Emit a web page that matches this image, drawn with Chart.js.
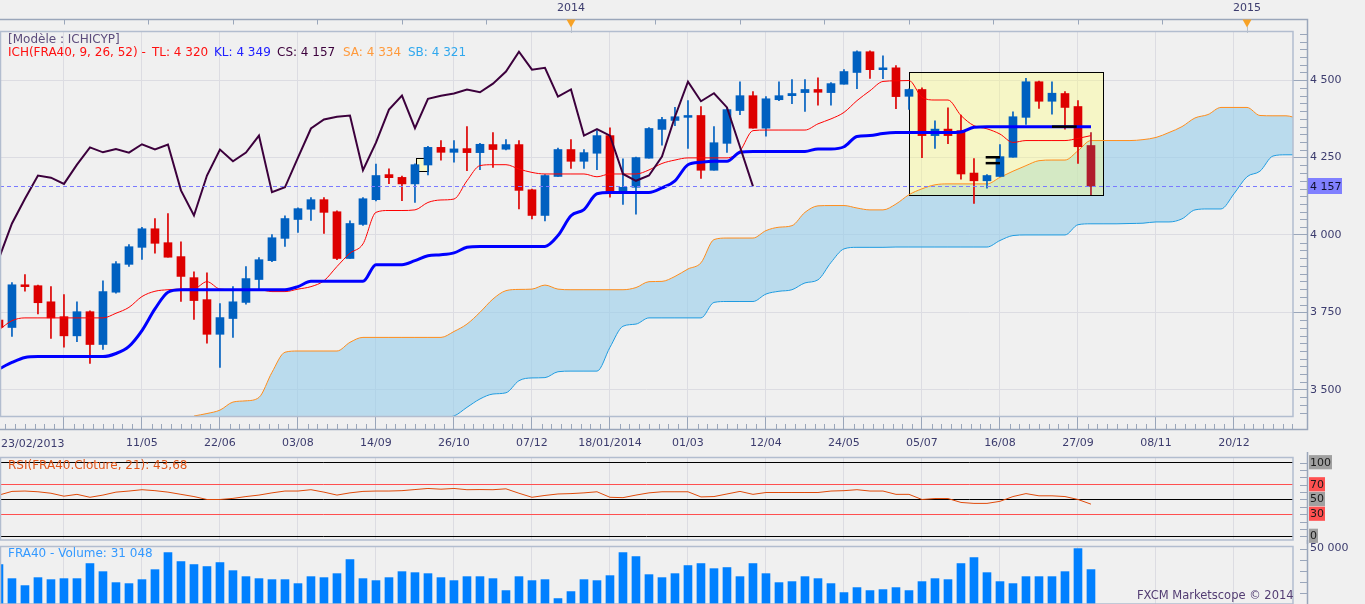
<!DOCTYPE html>
<html>
<head>
<meta charset="utf-8">
<script src="https://cdn.jsdelivr.net/npm/chart.js@4.4.1/dist/chart.umd.min.js"></script>
<style>
body { margin: 0; background: #f0f0f0; }
#wrap { position: relative; width: 1365px; height: 604px; overflow: hidden; font-family: 'DejaVu Sans', sans-serif; font-size: 12px; }
canvas { position: absolute; left: 0; }
.t { position: absolute; white-space: pre; line-height: 14px; }
</style>
</head>
<body>
<div id="wrap">
  <canvas id="mainChart" width="1365" height="452" style="top:0"></canvas>
  <canvas id="rsiChart" width="1365" height="92" style="top:452px"></canvas>
  <canvas id="volChart" width="1365" height="64" style="top:540px"></canvas>

  <div class="t" style="left:8px;top:32px;color:#5c4c7c">[Modèle : ICHICYP]</div>
  <div class="t" style="left:8px;top:45px;color:#ff1010">ICH(FRA40, 9, 26, 52) -</div>
  <div class="t" style="left:152px;top:45px;color:#ff1010">TL: 4 320</div>
  <div class="t" style="left:214px;top:45px;color:#2020ff">KL: 4 349</div>
  <div class="t" style="left:277px;top:45px;color:#3c003c">CS: 4 157</div>
  <div class="t" style="left:343px;top:45px;color:#ff9a3c">SA: 4 334</div>
  <div class="t" style="left:408px;top:45px;color:#30a8ee">SB: 4 321</div>
  <div class="t" style="left:8px;top:458px;color:#e0561a">RSI(FRA40.Cloture, 21): 43,68</div>
  <div class="t" style="left:8px;top:546px;color:#3399ff">FRA40 - Volume: 31 048</div>
  <div class="t" style="left:1137px;top:588px;color:#523c72;font-size:11.5px">FXCM Marketscope © 2014</div>
</div>

<script>
// weeks are counted from the week of 30/03/2013 (= 0); first candle is week -5 (23/02/2013)
const firstWeek = -5;
const xMin = -4.92, xMax = 94.54;
const xTickWeeks = [0, 6, 12, 18, 24, 30, 36, 42, 48, 54, 60, 66, 72, 78, 84, 90];
const xTickLabels = ['', '11/05', '22/06', '03/08', '14/09', '26/10', '07/12', '18/01/2014',
                     '01/03', '12/04', '24/05', '05/07', '16/08', '27/09', '08/11', '20/12'];
const firstDateLabel = '23/02/2013';
const yearMarks = [{ week: 39, label: '2014' }, { week: 91, label: '2015' }];

const priceTicks = [3500, 3750, 4000, 4250, 4500];
const rsiLevels = [0, 30, 50, 70, 100];

// weekly candles FRA40
const open = [3725,3701,3839,3836,3784,3736,3674,3752,3646,3815,3905,3960,4020,3975,3930,3862,3791,3679,3730,3782,
              3856,3917,3989,4050,4083,4114,4075,3924,4034,4114,4195,4186,4165,4226,4283,4267,4279,4266,4292,4277,
              4292,4146,4063,4189,4276,4238,4264,4321,4138,4154,4248,4341,4370,4380,4386,4209,4296,4402,4450,4345,
              4437,4450,4460,4470,4460,4487,4525,4592,4534,4540,4448,4470,4321,4342,4337,4200,4175,4189,4251,4380,
              4495,4432,4457,4415,4289];
const high = [3730,3846,3872,3838,3833,3807,3784,3755,3852,3914,3969,4025,4053,4069,3978,3881,3878,3778,3833,3898,
              3927,4001,4062,4088,4121,4121,4078,4046,4121,4229,4214,4190,4230,4286,4305,4305,4350,4296,4331,4308,
              4305,4148,4195,4281,4308,4276,4337,4346,4246,4252,4347,4380,4412,4434,4415,4350,4411,4495,4463,4447,
              4495,4502,4502,4508,4492,4534,4595,4595,4579,4547,4472,4475,4369,4411,4387,4247,4195,4292,4398,4506,
              4497,4495,4463,4434,4331];
const low = [3690,3672,3818,3745,3666,3637,3655,3585,3630,3812,3898,3921,3941,3928,3785,3727,3650,3572,3669,3776,
             3824,3914,3963,4008,4047,4005,3920,3924,4031,4110,4166,4111,4105,4194,4242,4235,4208,4211,4218,4275,
             4084,4052,4045,4189,4215,4215,4211,4122,4099,4067,4248,4290,4353,4280,4183,4209,4267,4389,4345,4319,
             4434,4424,4399,4419,4419,4487,4473,4506,4505,4408,4406,4250,4280,4295,4180,4102,4151,4189,4251,4357,
             4409,4390,4342,4231,4130];
const close = [3701,3839,3833,3781,3732,3674,3752,3646,3817,3907,3962,4020,3973,3928,3866,3788,3679,3733,3784,3859,
               3920,3991,4053,4085,4114,4073,3924,4037,4117,4192,4185,4165,4227,4283,4267,4278,4266,4293,4276,4292,
               4144,4063,4192,4276,4238,4266,4321,4138,4154,4250,4344,4373,4382,4386,4209,4298,4405,4450,4345,4440,
               4450,4457,4470,4461,4489,4528,4592,4534,4540,4447,4470,4321,4342,4321,4197,4175,4192,4253,4382,4495,
               4432,4458,4412,4285,4157];

// Ichimoku lines (from week -5)
const tenkan = [3693,3723,3732,3732,3732,3732,3732,3732,3732,3747,3766,3801,3818,3823,3825,3826,3849,3825,3823,3823,
                3823,3817,3817,3825,3833,3852,3898,3941,3971,4073,4079,4079,4081,4105,4113,4116,4175,4224,4227,4227,
                4213,4202,4197,4197,4197,4197,4188,4197,4197,4197,4210,4231,4242,4249,4249,4249,4249,4272,4337,4339,
                4339,4339,4339,4359,4375,4396,4434,4466,4496,4498,4499,4445,4436,4436,4386,4353,4343,4326,4299,4305,
                4305,4305,4305,4312,4321];
const kijun = [3567,3588,3604,3607,3607,3607,3607,3607,3607,3617,3640,3691,3761,3815,3823,3823,3823,3823,3823,3823,
               3823,3823,3823,3833,3850,3850,3850,3850,3850,3904,3904,3904,3917,3933,3936,3942,3960,3963,3963,3963,
               3963,3963,3963,3998,4062,4082,4133,4137,4137,4137,4137,4152,4175,4227,4235,4238,4238,4267,4270,4270,
               4270,4270,4270,4278,4278,4285,4318,4321,4328,4331,4331,4331,4331,4331,4333,4348,4350,4350,4350,4350,
               4350,4350,4350,4350,4350];
// cloud, shifted 26 weeks ahead, from week 10 (below the chart before that)
const senkouStart = 10;
const senkouA = [3415,3423,3434,3460,3464,3475,3556,3621,3625,3625,3625,3625,3653,3669,3669,3669,3669,3669,3669,3669,
                 3688,3712,3750,3793,3820,3824,3825,3838,3825,3823,3823,3823,3823,3823,3830,3849,3850,3866,3890,3910,
                 3985,3990,3990,3990,4014,4025,4030,4073,4094,4095,4095,4087,4081,4081,4100,4130,4149,4162,4165,4165,
                 4165,4165,4186,4206,4224,4240,4242,4242,4272,4305,4305,4305,4305,4308,4315,4331,4350,4378,4389,4412,
                 4412,4412,4386,4385,4385,4375];
const senkouB = [3300,3300,3300,3300,3310,3320,3330,3340,3350,3350,3350,3360,3370,3380,3390,3395,3400,3405,3408,3410,
                 3415,3443,3470,3486,3490,3529,3538,3539,3558,3560,3560,3560,3637,3705,3712,3732,3732,3732,3732,3732,
                 3782,3785,3785,3785,3809,3818,3823,3845,3855,3911,3955,3960,3960,3960,3961,3961,3961,3961,3961,3961,
                 3961,3961,3982,3998,4000,4000,4000,4000,4033,4036,4036,4036,4037,4038,4042,4042,4052,4081,4084,4084,
                 4133,4188,4206,4255,4259,4259];

// drawn objects on the chart
const markBoxes = [
  { from: 65.0, to: 79.92, top: 4528, bottom: 4130, fill: 'rgba(255,255,128,0.38)' },
  { from: 27.05, to: 27.98, top: 4249, bottom: 4206, fill: '#f8f8c8' }
];
const markLines = [
  { from: 70.9, to: 72.0, level: 4251 },
  { from: 70.9, to: 72.0, level: 4232 },
  { from: 76.0, to: 77.9, level: 4350 }
];

const rsi = [56,61,61.5,60.5,58.5,54.5,57,53,56,60,61.5,63.3,62,60,57,54,50,50,51.5,54,
             56,59,61.5,61.5,63.3,60,56,59,61,61.5,61.5,62,63.5,65,64,65,63.3,63.5,63.3,64.5,
             58.5,53,55.5,57.5,58,59,60.5,53,52.5,56,59,60.5,60.5,60.5,53.5,54,57.5,61,57,59.5,
             59.5,59.5,59.5,59.5,61.5,62,63.3,61.5,61.5,57,57,50,51.3,51.3,46,44.7,44.7,47.5,54,58,
             55,55,54,50,43.68];
const volume = [35600,22900,16600,23800,22000,22900,22900,36500,29200,19300,18400,22000,31000,46400,38300,35600,33800,37400,30100,24700,
                22900,22000,22000,18400,24700,23800,27400,40100,22900,21100,23800,29200,28300,27400,23800,21100,24700,24700,22900,12100,
                24700,21100,22000,4900,11200,22000,21100,25600,46400,42800,26500,23800,27400,34700,36500,31900,32900,24700,36500,27400,
                19300,20200,24700,22900,18400,10300,14800,12100,13000,14800,12100,20200,22900,22000,36500,41900,28300,20200,18400,24700,
                24700,24700,29200,50000,31048];

const upColor = '#0060c0', downColor = '#dd0000', lastColor = '#b01c2c';
const gridColor = '#dcdce2', axisColor = '#9aa6ba', frameColor = '#b2bdcf', labelColor = '#3c3c6e';

Chart.defaults.font.family = "'DejaVu Sans', sans-serif";
Chart.defaults.font.size = 11;
Chart.defaults.color = labelColor;

function fmt(v) { return String(v).replace(/\B(?=(\d{3})+(?!\d))/g, ' '); }
function xy(values, start) { return values.map((v, i) => ({ x: start + i, y: v })); }

const lastClose = close[close.length - 1];
const candleColors = open.map((o, i) => i === open.length - 1 ? lastColor : (close[i] >= o ? upColor : downColor));
const bodies = open.map((o, i) => ({ x: firstWeek + i, y: [Math.min(o, close[i]), Math.max(o, close[i])] }));
const wicks = low.map((l, i) => ({ x: firstWeek + i, y: [l, high[i]] }));

function xScale(showLabels) {
  return {
    type: 'linear', min: xMin, max: xMax, offset: false,
    afterBuildTicks: s => { s.ticks = xTickWeeks.map(v => ({ value: v })); },
    afterFit: s => { s.height = showLabels ? 36 : 0; s.paddingLeft = 0; s.paddingRight = 0; },
    grid: { color: gridColor, tickColor: axisColor, tickLength: 13, drawTicks: showLabels, offset: false },
    border: { display: false },
    ticks: { display: showLabels, padding: 8, maxRotation: 0, autoSkip: false, callback: (v, i) => xTickLabels[i] }
  };
}
function fitRight(s) { s.width = 72; s.paddingTop = 0; s.paddingBottom = 0; }

function line(ctx, x0, y0, x1, y1) { ctx.beginPath(); ctx.moveTo(x0, y0); ctx.lineTo(x1, y1); ctx.stroke(); }

const mainDecor = {
  id: 'mainDecor',
  beforeDatasetsDraw(chart) {
    const { ctx, chartArea: a, scales: { x, y } } = chart;
    ctx.save();
    ctx.beginPath(); ctx.rect(a.left, a.top, a.right - a.left, a.bottom - a.top); ctx.clip();
    markBoxes.forEach(b => {
      const x0 = Math.round(x.getPixelForValue(b.from)), x1 = Math.round(x.getPixelForValue(b.to));
      const y0 = Math.round(y.getPixelForValue(b.top)), y1 = Math.round(y.getPixelForValue(b.bottom));
      ctx.fillStyle = b.fill; ctx.fillRect(x0, y0, x1 - x0, y1 - y0);
      ctx.strokeStyle = '#000'; ctx.lineWidth = 1;
      ctx.strokeRect(x0 + 0.5, y0 + 0.5, x1 - x0, y1 - y0);
    });
    ctx.restore();
  },
  afterDatasetsDraw(chart) {
    const { ctx, chartArea: a, scales: { y } } = chart;
    const py = Math.round(y.getPixelForValue(lastClose)) + 0.5;
    ctx.save();
    ctx.strokeStyle = '#7a7aff'; ctx.lineWidth = 1; ctx.setLineDash([4, 3]);
    line(ctx, a.left, py, a.right, py);
    ctx.restore();
  },
  afterDraw(chart) {
    const { ctx, chartArea: a, scales: { x, y } } = chart;
    const axisX = a.right + 14.5, axisY = a.bottom + 13.5, bandY = a.top - 11.5;
    ctx.save();
    // plot frame
    ctx.strokeStyle = frameColor; ctx.lineWidth = 1.5;
    ctx.strokeRect(a.left + 0.5, a.top + 0.5, a.right - a.left - 0.5, a.bottom - a.top);
    // outer axis lines
    ctx.strokeStyle = axisColor; ctx.lineWidth = 1.5;
    ctx.beginPath();
    ctx.moveTo(0, bandY); ctx.lineTo(axisX, bandY); ctx.lineTo(axisX, axisY); ctx.lineTo(0, axisY);
    ctx.stroke();
    ctx.lineWidth = 1;
    // minor ticks on the time axis
    for (let n = Math.ceil(xMin / 0.75); n * 0.75 <= xMax; n++) {
      if (n % 8 === 0) continue;
      const px = Math.round(x.getPixelForValue(n * 0.75)) + 0.5;
      line(ctx, px, a.bottom + 8, px, a.bottom + 13);
    }
    // minor ticks on the price axis
    for (let v = Math.ceil(y.min / 25) * 25; v <= y.max; v += 25) {
      if (v % 250 === 0) continue;
      const py = Math.round(y.getPixelForValue(v)) + 0.5;
      line(ctx, a.right + 7, py, a.right + 14, py);
    }
    // ticks of the top band
    for (let n = 0; n * 6.5 <= xMax; n++) {
      const px = Math.round(x.getPixelForValue(n * 6.5)) + 0.5;
      line(ctx, px, bandY, px, bandY + 5);
    }
    // year markers
    ctx.font = "11px 'DejaVu Sans'"; ctx.textAlign = 'center'; ctx.textBaseline = 'middle';
    yearMarks.forEach(m => {
      const px = Math.round(x.getPixelForValue(m.week));
      ctx.fillStyle = labelColor; ctx.fillText(m.label, px, 8);
      ctx.strokeStyle = '#b8c0cc'; line(ctx, px + 0.5, bandY + 7, px + 0.5, a.top + 2);
      ctx.fillStyle = '#f7a227';
      ctx.beginPath(); ctx.moveTo(px - 4.5, bandY); ctx.lineTo(px + 4.5, bandY); ctx.lineTo(px, bandY + 8); ctx.closePath(); ctx.fill();
    });
    // first date on the time axis
    ctx.fillStyle = labelColor; ctx.textAlign = 'left';
    ctx.fillText(firstDateLabel, 1, a.bottom + 28);
    // last price label
    const py = Math.round(y.getPixelForValue(lastClose));
    ctx.fillStyle = '#8080ff'; ctx.fillRect(a.right + 15, py - 8, 34, 16);
    ctx.fillStyle = '#101030'; ctx.fillText(fmt(lastClose), a.right + 17, py + 1);
    ctx.restore();
  }
};

new Chart(document.getElementById('mainChart'), {
  type: 'line',
  data: {
    datasets: [
      { label: 'CS', data: xy(close.slice(26), firstWeek), borderColor: '#3c003c', borderWidth: 2, order: 1 },
      { label: 'KL', data: xy(kijun, firstWeek), borderColor: '#0000ff', borderWidth: 3, order: 2, cubicInterpolationMode: 'monotone' },
      { label: 'TL', data: xy(tenkan, firstWeek), borderColor: '#ff0000', borderWidth: 1, order: 3, cubicInterpolationMode: 'monotone' },
      ...markLines.map(m => ({ data: [{ x: m.from, y: m.level }, { x: m.to, y: m.level }], borderColor: '#000', borderWidth: 2.5, order: 0 })),
      { type: 'bar', data: bodies, backgroundColor: candleColors, barThickness: 8, grouped: false, minBarLength: 1, order: 5 },
      { type: 'bar', data: wicks, backgroundColor: candleColors, barThickness: 1, grouped: false, order: 6 },
      { label: 'SA', data: xy(senkouA, senkouStart), borderColor: '#ff8c1a', borderWidth: 1, fill: '+1',
        backgroundColor: 'rgba(150,205,235,0.6)', order: 7, cubicInterpolationMode: 'monotone' },
      { label: 'SB', data: xy(senkouB, senkouStart), borderColor: '#1e9be0', borderWidth: 1, order: 8, cubicInterpolationMode: 'monotone' }
    ]
  },
  options: {
    responsive: false, animation: false, events: [],
    layout: { padding: { top: 31, left: 0, right: 0, bottom: 0 } },
    elements: { point: { radius: 0 }, bar: { borderWidth: 0 } },
    plugins: { legend: { display: false }, tooltip: { enabled: false }, filler: { drawTime: 'beforeDatasetsDraw' } },
    scales: {
      x: xScale(true),
      y: {
        position: 'right', min: 3415, max: 4659,
        afterBuildTicks: s => { s.ticks = priceTicks.map(v => ({ value: v })); },
        afterFit: fitRight,
        grid: { color: gridColor, tickColor: axisColor, tickLength: 14 },
        border: { display: false },
        ticks: { padding: 3, crossAlign: 'near', callback: v => fmt(v) }
      }
    }
  },
  plugins: [mainDecor]
});

function panelDecor(id, step, top, bottom) {
  return {
    id,
    afterDraw(chart) {
      const { ctx, chartArea: a, scales: { y } } = chart;
      ctx.save();
      ctx.strokeStyle = frameColor; ctx.lineWidth = 1.5;
      ctx.strokeRect(a.left + 0.5, a.top + 0.5, a.right - a.left - 0.5, a.bottom - a.top - 0.5);
      ctx.strokeStyle = axisColor; ctx.lineWidth = 1.5;
      line(ctx, a.right + 14.5, 0, a.right + 14.5, chart.height);
      ctx.lineWidth = 1;
      for (let v = top; v >= bottom; v -= step) {
        const py = Math.round(y.getPixelForValue(v)) + 0.5;
        line(ctx, a.right + 7, py, a.right + 14, py);
      }
      ctx.restore();
    }
  };
}

new Chart(document.getElementById('rsiChart'), {
  type: 'line',
  data: { datasets: [{ data: xy(rsi, firstWeek), borderColor: '#e04a0a', borderWidth: 1 }] },
  options: {
    responsive: false, animation: false, events: [],
    layout: { padding: { top: 5, bottom: 4, left: 0, right: 0 } },
    elements: { point: { radius: 0 } },
    plugins: { legend: { display: false }, tooltip: { enabled: false } },
    scales: {
      x: xScale(false),
      y: {
        position: 'right', min: -5.03, max: 107.74,
        afterBuildTicks: s => { s.ticks = rsiLevels.map(v => ({ value: v })); },
        afterFit: fitRight,
        grid: { color: c => (c.tick && (c.tick.value === 30 || c.tick.value === 70)) ? '#ff5050' : '#000000',
                tickColor: 'transparent', tickLength: 14 },
        border: { display: false },
        ticks: {
          padding: 3, crossAlign: 'near', color: '#1a1a1a', callback: v => String(v),
          showLabelBackdrop: true, backdropPadding: { top: 1, bottom: 0, left: 1, right: 1 },
          backdropColor: c => (c.tick && (c.tick.value === 30 || c.tick.value === 70)) ? '#ff5050' : '#a0a0a0'
        }
      }
    }
  },
  plugins: [panelDecor('rsiDecor', 10, 100, 0)]
});

new Chart(document.getElementById('volChart'), {
  type: 'bar',
  data: { datasets: [{ data: xy(volume, firstWeek), backgroundColor: '#0080ff', barThickness: 8 }] },
  options: {
    responsive: false, animation: false, events: [],
    layout: { padding: { top: 6, bottom: 0, left: 0, right: 0 } },
    plugins: { legend: { display: false }, tooltip: { enabled: false } },
    scales: {
      x: xScale(false),
      y: {
        position: 'right', min: 0, max: 52350,
        afterBuildTicks: s => { s.ticks = [{ value: 50000 }]; },
        afterFit: fitRight,
        grid: { drawOnChartArea: false, tickColor: 'transparent', tickLength: 14 },
        border: { display: false },
        ticks: { padding: 3, crossAlign: 'near', callback: v => fmt(v) }
      }
    }
  },
  plugins: [panelDecor('volDecor', 10000, 50000, 0)]
});
</script>
</body>
</html>
